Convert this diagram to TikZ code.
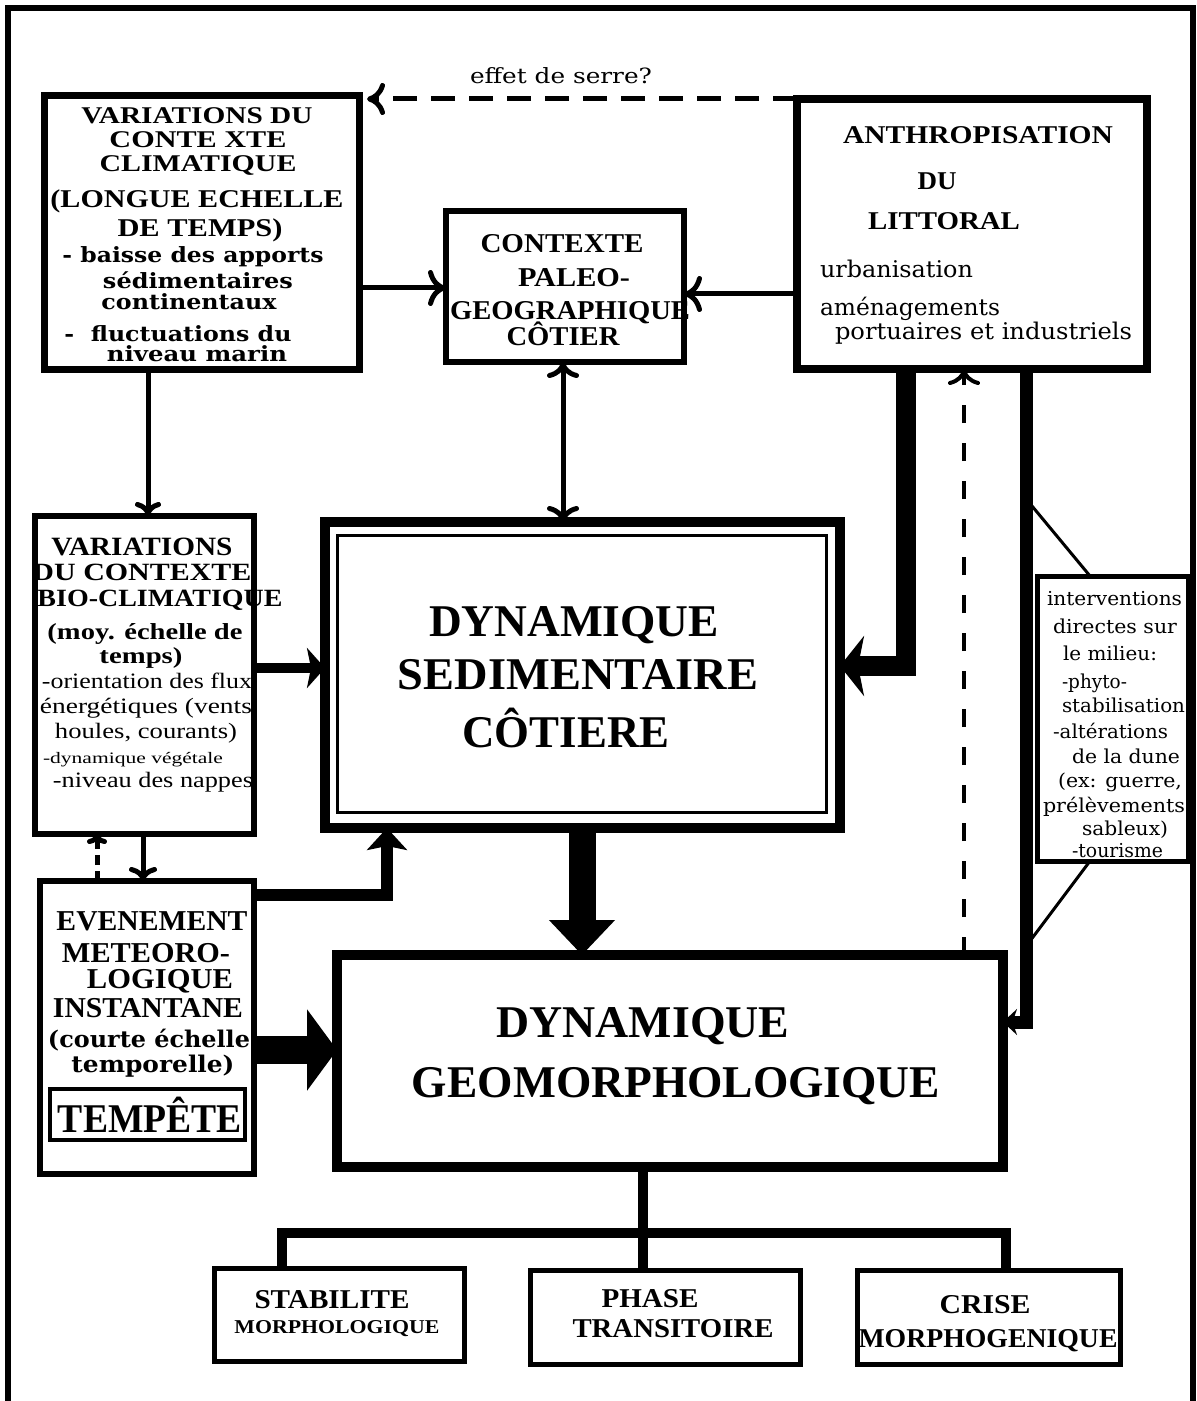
\documentclass[tikz,border=0pt]{standalone}
\usepackage{fontspec}
\usepackage{graphicx}
\setmainfont{Liberation Serif}
\newfontfamily\lucfam{DejaVu Serif}
\usetikzlibrary{arrows.meta,fit,calc}
\newcommand\txB[3]{\resizebox{#2pt}{\height}{\fontsize{#1pt}{#1pt}\selectfont\bfseries #3}}
\newcommand\txR[3]{\resizebox{#2pt}{\height}{\fontsize{#1pt}{#1pt}\selectfont #3}}
\newcommand\luB[3]{\resizebox{#2pt}{\height}{\fontsize{#1pt}{#1pt}\selectfont\lucfam\bfseries #3}}
\newcommand\luR[3]{\resizebox{#2pt}{\height}{\fontsize{#1pt}{#1pt}\selectfont\lucfam #3}}
\tikzset{
  box/.style={draw, fill=white, inner sep=0pt, outer sep=0pt},
  tx/.style={anchor=base, inner sep=0pt, outer sep=0pt},
  txl/.style={anchor=base west, inner sep=0pt, outer sep=0pt},
  conn/.style={line width=2.5pt},
  thinl/.style={line width=1.5pt},
}
\begin{document}
\begin{tikzpicture}[x=0.5pt,y=-0.5pt]
\useasboundingbox (0,0) rectangle (1196,1401);
\fill[white] (0,0) rectangle (1196,1401);
\draw[line width=3pt] (8,1401) -- (8,8) -- (1193,8) -- (1193,1401);

% boxes
\node[box,line width=3.5pt,fit={(44,96) (359,369)}] (clim) {};
\node[box,line width=4pt,fit={(797,99) (1147,369)}] (anth) {};
\node[box,line width=3pt,fit={(446,211) (684,362)}] (paleo) {};
\node[box,line width=3pt,fit={(35,516) (254,834)}] (bio) {};
\node[box,line width=3pt,fit={(40,881) (254,1174)}] (even) {};
\node[box,line width=2pt,fit={(50,1089) (245,1140)}] (temp) {};
\node[box,line width=5pt,fit={(325,522) (840,828)}] (sed) {};
\draw[line width=1.5pt] ($(sed.north west)+(12,13)$) rectangle ($(sed.south east)+(-14,-16)$);
\node[box,line width=5pt,fit={(337,955) (1003,1167)}] (geom) {};
\node[box,line width=2.5pt,fit={(214,1268) (464,1361)}] (stab) {};
\node[box,line width=2.5pt,fit={(530,1270) (800,1364)}] (phase) {};
\node[box,line width=2.5pt,fit={(857,1270) (1120,1364)}] (crise) {};
\node[box,line width=2.5pt,fit={(1037,576) (1188,861)}] (interv) {};

% connectors
\draw[line width=2.5pt,dash pattern=on 12pt off 7pt,shorten >=4pt,-{To[length=9pt,width=16pt]}] (anth.north west) -- (clim.east |- anth.north west);
\draw[conn,-{To[length=9pt,width=18pt]}] (clim.east |- 0,288) -- (paleo.west |- 0,288);
\draw[conn,-{To[length=9pt,width=18pt]}] (anth.west |- 0,294) -- (paleo.east |- 0,294);
\draw[conn,{To[length=8pt,width=16pt]}-{To[length=8pt,width=16pt]}] (paleo.south -| 563,0) -- (sed.north -| 563,0);
\draw[conn,-{To[length=7pt,width=13pt]}] (clim.south -| 148,0) -- (bio.north -| 148,0);
\draw[line width=5pt,-{Stealth[length=9pt,width=20pt,inset=2pt]}] (bio.east |- 0,668) -- (sed.west |- 0,668);
\draw[line width=10pt,line join=miter,-{Stealth[length=12pt,width=30pt,inset=3pt]}] (anth.south -| 906,0) |- (sed.east |- 0,666);
\draw[line width=2pt,dash pattern=on 9pt off 10pt,-{To[length=8pt,width=16pt]}] (geom.north -| 964,0) -- (anth.south -| 964,0);
\draw[line width=6.5pt,line join=miter,-{Stealth[length=7pt,width=13pt]}] (anth.south -| 1026,0) |- (geom.east |- 0,1022);
\coordinate (br1) at (1027,500);
\coordinate (br2) at (1027,945);
\draw[thinl] (br1) -- (interv.north -| 1090,0);
\draw[thinl] (interv.south -| 1090,0) -- (br2);
\draw[line width=2.5pt,dash pattern=on 5pt off 3pt,-{To[length=5pt,width=10pt]}] (even.north -| 97,0) -- (bio.south -| 97,0);
\draw[conn,-{To[length=7pt,width=14pt]}] (bio.south -| 143,0) -- (even.north -| 143,0);
\draw[line width=6pt,line join=miter,-{Stealth[length=11pt,width=20pt,inset=2pt]}] (even.east |- 0,895) -| (sed.south -| 387,0);
\draw[line width=14pt,-{Triangle[length=15pt,width=40pt]}] (even.east |- 0,1050) -- (geom.west |- 0,1050);
\draw[line width=13.5pt,-{Triangle[length=17.5pt,width=32pt]}] (sed.south -| 582,0) -- (geom.north -| 582,0);
\coordinate (j) at (643,1233);
\draw[line width=5pt] (geom.south -| j) -- (j);
\draw[line width=5pt,line join=miter] (stab.north -| 282,0) |- (j);
\draw[line width=5pt,line join=miter] (j) -| (crise.north -| 1006,0);
\draw[line width=5pt] (j) -- (phase.north -| j);

% label
\node[tx] (lab) at (561,84) {\luR{10.5}{91}{effet de serre?}};

% clim text
\node[tx] (c1) at (197,124) {\txB{12}{115.5}{VARIATIONS DU}};
\node[tx] (c2) at (198,148) {\txB{12}{88.5}{CONTE XTE}};
\node[tx] (c3) at (198,172) {\txB{12}{98.5}{CLIMATIQUE}};
\node[tx] (c4) at (197,208) {\txB{12.8}{146.5}{(LONGUE ECHELLE}};
\node[tx] (c5) at (200,237) {\txB{12.8}{82.5}{DE TEMPS)}};
\node[tx] (c6) at (193,263) {\luB{10.5}{130.5}{- baisse des apports}};
\node[tx] (c7) at (198,289) {\luB{10.5}{95}{sédimentaires}};
\node[tx] (c8) at (189,310) {\luB{10.5}{87.5}{continentaux}};
\node[tx] (c9) at (178,342) {\luB{10.5}{113.5}{-~ fluctuations du}};
\node[tx] (c10) at (197,362) {\luB{10.5}{90}{niveau marin}};

% anth text
\node[tx] (a1) at (978,144) {\txB{12.8}{135}{ANTHROPISATION}};
\node[tx] (a2) at (937,190) {\txB{12.8}{19.5}{DU}};
\node[tx] (a3) at (944,230) {\txB{12.8}{76}{LITTORAL}};
\node[txl] (a4) at (820,278) {\luR{11.5}{76.5}{urbanisation}};
\node[txl] (a5) at (820,315) {\luR{11.5}{90}{aménagements}};
\node[txl] (a6) at (835,340) {\luR{11.5}{148.5}{portuaires et industriels}};

% paleo text
\node[tx] (p1) at (562,253) {\txB{13.6}{81.5}{CONTEXTE}};
\node[tx] (p2) at (574,287) {\txB{13.6}{56}{PALEO-}};
\node[tx] (p3) at (570,320) {\txB{13.6}{120}{GEOGRAPHIQUE}};
\node[tx] (p4) at (563,345) {\txB{13.6}{56.5}{CÔTIER}};

% bio text
\node[tx] (b1) at (142,555) {\txB{13.2}{90.5}{VARIATIONS}};
\node[tx] (b2) at (142,580) {\txB{12.4}{109.5}{DU CONTEXTE}};
\node[tx] (b3) at (160,606) {\txB{12.4}{122.5}{BIO-CLIMATIQUE}};
\node[tx] (b4) at (145,639) {\txB{11.5}{97.5}{(moy. échelle de}};
\node[tx] (b5) at (141,663) {\txB{11.5}{41.5}{temps)}};
\node[tx] (b6) at (147,688) {\txR{11}{105}{-orientation des flux}};
\node[tx] (b7) at (146,713) {\txR{11}{106}{énergétiques (vents}};
\node[tx] (b8) at (146,738) {\txR{11}{91}{houles, courants)}};
\node[tx] (b9) at (133,763) {\txR{8}{90}{-dynamique végétale}};
\node[tx] (b10) at (153,787) {\txR{11}{100}{-niveau des nappes}};

% even text
\node[tx] (e1) at (152,930) {\txB{14.4}{95.5}{EVENEMENT}};
\node[tx] (e2) at (146,962) {\txB{14.4}{84}{METEORO-}};
\node[tx] (e3) at (160,988) {\txB{14.4}{73}{LOGIQUE}};
\node[tx] (e4) at (148,1017) {\txB{14.4}{95}{INSTANTANE}};
\node[tx] (e5) at (149,1047) {\luB{11.5}{101}{(courte échelle}};
\node[tx] (e6) at (153,1072) {\luB{11.5}{81.5}{temporelle)}};
\node[tx] (e7) at (150,1132) {\txB{20.4}{92}{TEMPÊTE}};

% sed text
\node[tx] (s1) at (574,636) {\txB{22.7}{145}{DYNAMIQUE}};
\node[tx] (s2) at (578,689) {\txB{22.7}{180}{SEDIMENTAIRE}};
\node[tx] (s3) at (566,747) {\txB{22.7}{103.5}{CÔTIERE}};

% geom text
\node[tx] (g1) at (643,1037) {\txB{22.7}{146.5}{DYNAMIQUE}};
\node[tx] (g2) at (676,1097) {\txB{22.7}{264}{GEOMORPHOLOGIQUE}};

% bottom text
\node[tx] (t1) at (332,1308) {\txB{13.6}{77.5}{STABILITE}};
\node[tx] (t2) at (337,1333) {\txB{9.8}{102.5}{MORPHOLOGIQUE}};
\node[tx] (t3) at (650,1307) {\txB{13.6}{48.5}{PHASE}};
\node[tx] (t4) at (673,1337) {\txB{13.6}{100.5}{TRANSITOIRE}};
\node[tx] (t5) at (985,1313) {\txB{13.6}{45.5}{CRISE}};
\node[tx] (t6) at (988,1347) {\txB{13.6}{129.5}{MORPHOGENIQUE}};

% interv text
\node[tx] (i1) at (1114.5,605) {\luR{9.6}{67.5}{interventions}};
\node[tx] (i2) at (1115,633) {\luR{9.6}{62}{directes sur}};
\node[tx] (i3) at (1110,660) {\luR{9.6}{47}{le milieu:}};
\node[txl] (i4) at (1062,688) {\luR{9.6}{32.5}{-phyto-}};
\node[txl] (i5) at (1062,712) {\luR{9.6}{61.5}{stabilisation}};
\node[txl] (i6) at (1053,738) {\luR{9.6}{57.5}{-altérations}};
\node[tx] (i7) at (1126,763) {\luR{9.6}{54}{de la dune}};
\node[tx] (i8) at (1120,787) {\luR{9.6}{62}{(ex: guerre,}};
\node[tx] (i9) at (1114,812) {\luR{9.6}{71}{prélèvements}};
\node[tx] (i10) at (1125,835) {\luR{9.6}{43}{sableux)}};
\node[tx] (i11) at (1117.5,857) {\luR{9.6}{45.5}{-tourisme}};
\end{tikzpicture}
\end{document}
